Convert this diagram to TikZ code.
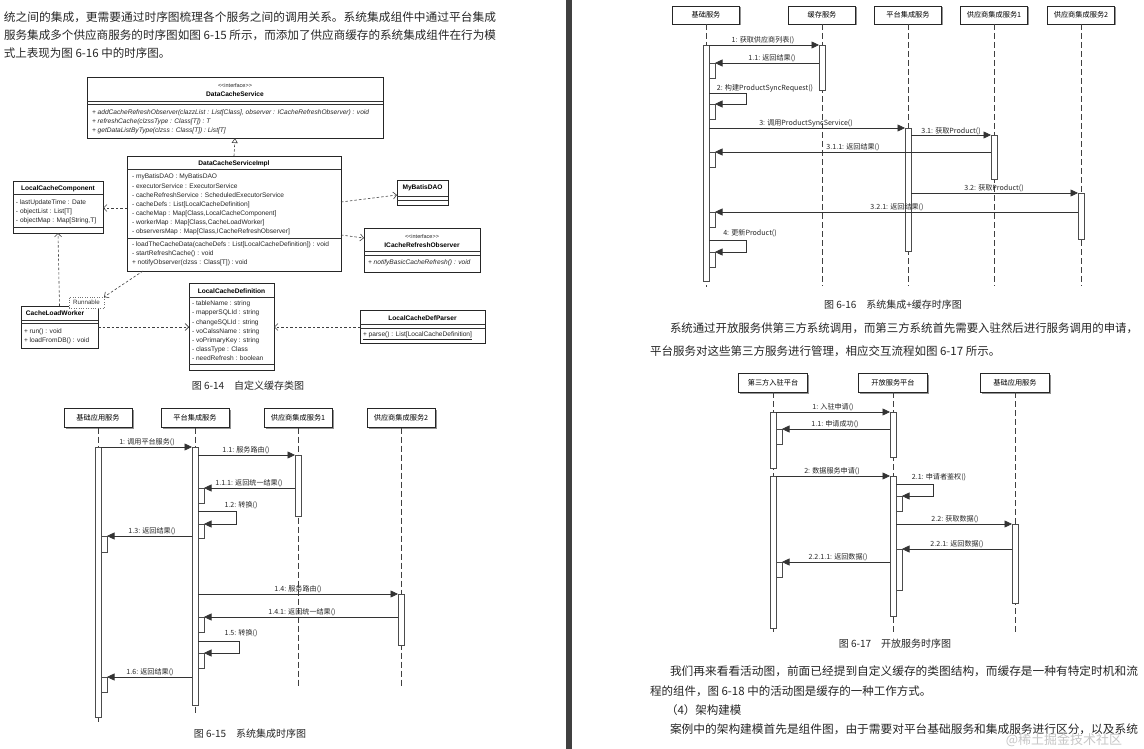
\documentclass[tikz,border=0pt]{standalone}
\usepackage{fontspec}
\usepackage{graphicx}
\setmainfont{Noto Sans CJK SC}
\newfontfamily\umlf{Liberation Sans}
\usetikzlibrary{arrows.meta,shadows,fit}
\begin{document}
\begin{tikzpicture}[x=1pt,y=-1pt,
  every node/.style={inner sep=0pt, outer sep=0pt},
  bodytxt/.style={font=\fontsize{11.5}{12}\selectfont, text=black!85, anchor=west},
  figcap/.style={font=\fontsize{10}{11}\selectfont, text=black!85},
  seqhead/.style={draw=black!85, line width=0.75pt, fill=white, minimum height=19pt, minimum width=68pt,
    font=\fontsize{7.2}{8}\selectfont, drop shadow={shadow xshift=1.5pt, shadow yshift=-1.5pt, fill=black!60, opacity=0.7}},
  actbar/.style={draw=black!70, line width=0.55pt, fill=white, inner sep=0pt},
  lifeln/.style={draw=black!75, line width=0.6pt, dash pattern=on 6pt off 3pt},
  msgline/.style={draw=black!80, line width=0.6pt, -{Triangle[length=7.5pt,width=7pt]}},
  msglab/.style={font=\fontsize{7.1}{8}\selectfont, text=black!85},
  umlcls/.style={draw=black!85, line width=0.75pt, fill=white, inner sep=0pt,
    drop shadow={shadow xshift=1.2pt, shadow yshift=-1.2pt, fill=black!50, opacity=0.6}},
  umltxt/.style={font=\umlf\fontsize{6.6}{7}\selectfont, text=black!85, anchor=west},
  umlita/.style={font=\umlf\itshape\fontsize{6.6}{7}\selectfont, text=black!85, anchor=west},
  umlhead/.style={font=\umlf\bfseries\fontsize{6.6}{7}\selectfont, text=black},
  umlster/.style={font=\umlf\fontsize{5.5}{6}\selectfont, text=black!85},
  clsline/.style={draw=black!80, line width=0.5pt},
  depline/.style={draw=black!75, line width=0.6pt, dash pattern=on 2.5pt off 2pt, -{Straight Barb[length=3.5pt,width=7pt]}},
  realline/.style={draw=black!75, line width=0.6pt, dash pattern=on 2.5pt off 2pt, -{Triangle[open,length=5pt,width=6pt]}}
]
\useasboundingbox (0,0) rectangle (1144,749);
\fill[white] (0,0) rectangle (1144,749);
\fill[black!75] (566,0) rectangle (572,749);

% ---------------- left page text
\node[bodytxt] (t1) at (4,17) {\resizebox{492pt}{\height}{统之间的集成，更需要通过时序图梳理各个服务之间的调用关系。系统集成组件中通过平台集成}};
\node[bodytxt] (t2) at (4,35) {\resizebox{492pt}{\height}{服务集成多个供应商服务的时序图如图 6-15 所示，而添加了供应商缓存的系统集成组件在行为模}};
\node[bodytxt] (t3) at (4,53) {式上表现为图 6-16 中的时序图。};

% ---------------- Fig 6-14 class diagram
\node[umlcls, fit={(87,77)(383,138)}] (dcs) {};
\node[umlster] (dcs1) at (235,86) {{<}{<}interface{>}{>}};
\node[umlhead] (dcs2) at (235,94) {DataCacheService};
\draw[clsline] (dcs.west |- 0,101) -- (dcs.east |- 0,101);
\draw[clsline] (dcs.west |- 0,104) -- (dcs.east |- 0,104);
\node[umlita] (dcs3) at (92,113) {+ addCacheRefreshObserver(clazzList : List[Class], observer : ICacheRefreshObserver) : void};
\node[umlita] (dcs4) at (92,122) {+ refreshCache(clzssType : Class[T]) : T};
\node[umlita] (dcs5) at (92,131) {+ getDataListByType(clzss : Class[T]) : List[T]};

\node[umlcls, fit={(127,156)(341,271)}] (impl) {};
\node[umlhead] (im0) at (234,164) {DataCacheServiceImpl};
\draw[clsline] (impl.west |- 0,169.5) -- (impl.east |- 0,169.5);
\node[umltxt] (im1) at (132,177) {- myBatisDAO : MyBatisDAO};
\node[umltxt] (im2) at (132,186) {- executorService : ExecutorService};
\node[umltxt] (im3) at (132,195.5) {- cacheRefreshService : ScheduledExecutorService};
\node[umltxt] (im4) at (132,204.5) {- cacheDefs : List[LocalCacheDefinition]};
\node[umltxt] (im5) at (132,213.5) {- cacheMap : Map[Class,LocalCacheComponent]};
\node[umltxt] (im6) at (132,222.5) {- workerMap : Map[Class,CacheLoadWorker]};
\node[umltxt] (im7) at (132,232) {- observersMap : Map[Class,ICacheRefreshObserver]};
\draw[clsline] (impl.west |- 0,238.5) -- (impl.east |- 0,238.5);
\node[umltxt] (im8) at (132,245) {- loadTheCacheData(cacheDefs : List[LocalCacheDefinition]) : void};
\node[umltxt] (im9) at (132,254) {- startRefreshCache() : void};
\node[umltxt] (im10) at (132,263) {+ notifyObserver(clzss : Class[T]) : void};

\node[umlcls, fit={(13,181)(103,233)}] (lcc) {};
\node[umlhead] (lc0) at (58,188.5) {LocalCacheComponent};
\draw[clsline] (lcc.west |- 0,194.5) -- (lcc.east |- 0,194.5);
\node[umltxt] (lc1) at (16,202.5) {- lastUpdateTime : Date};
\node[umltxt] (lc2) at (16,211.5) {- objectList : List[T]};
\node[umltxt] (lc3) at (16,220.5) {- objectMap : Map[String,T]};
\draw[clsline] (lcc.west |- 0,227) -- (lcc.east |- 0,227);

\node[umlcls, fit={(397,180)(448,205)}] (mb) {};
\node[umlhead] (mb0) at (422.5,188) {MyBatisDAO};
\draw[clsline] (mb.west |- 0,196) -- (mb.east |- 0,196);
\draw[clsline] (mb.west |- 0,200) -- (mb.east |- 0,200);

\node[umlcls, fit={(364,228)(480,272)}] (icro) {};
\node[umlster] (ic1) at (422,237) {{<}{<}interface{>}{>}};
\node[umlhead] (ic2) at (422,245) {ICacheRefreshObserver};
\draw[clsline] (icro.west |- 0,251) -- (icro.east |- 0,251);
\draw[clsline] (icro.west |- 0,255) -- (icro.east |- 0,255);
\node[umlita] (ic3) at (368,263) {+ notifyBasicCacheRefresh() : void};

\node[umlcls, fit={(21,306)(98,348)}] (clw) {};
\node[umlhead] (cw0) at (55,313.5) {CacheLoadWorker};
\draw[clsline] (clw.west |- 0,320) -- (clw.east |- 0,320);
\draw[clsline] (clw.west |- 0,323.5) -- (clw.east |- 0,323.5);
\node[umltxt] (cw1) at (24,332) {+ run() : void};
\node[umltxt] (cw2) at (24,340.5) {+ loadFromDB() : void};
\node[draw=black!55, dotted, fill=white, minimum width=35pt, minimum height=11pt,
  font=\umlf\fontsize{6.2}{7}\selectfont, text=black!80] (rn) at (86.5,302.5) {Runnable};

\node[umlcls, fit={(189,283)(274,370)}] (lcd) {};
\node[umlhead] (ld0) at (231.5,291) {LocalCacheDefinition};
\draw[clsline] (lcd.west |- 0,297) -- (lcd.east |- 0,297);
\node[umltxt] (ld1) at (192,304) {- tableName : string};
\node[umltxt] (ld2) at (192,313) {- mapperSQLId : string};
\node[umltxt] (ld3) at (192,322.5) {- changeSQLId : string};
\node[umltxt] (ld4) at (192,331.5) {- voCalssName : string};
\node[umltxt] (ld5) at (192,340.5) {- voPrimaryKey : string};
\node[umltxt] (ld6) at (192,349.5) {- classType : Class};
\node[umltxt] (ld7) at (192,358.5) {- needRefresh : boolean};
\draw[clsline] (lcd.west |- 0,364.5) -- (lcd.east |- 0,364.5);

\node[umlcls, fit={(360,310)(485,343)}] (lcdp) {};
\node[umlhead] (lp0) at (422.5,318) {LocalCacheDefParser};
\draw[clsline] (lcdp.west |- 0,324) -- (lcdp.east |- 0,324);
\draw[clsline] (lcdp.west |- 0,328) -- (lcdp.east |- 0,328);
\node[umltxt] (lp1) at (363,336) {\underline{+ parse() : List[LocalCacheDefinition]}};

\draw[realline] (impl.north) -- (dcs.south);
\draw[depline] (impl.west |- 0,208) -- (lcc.east |- 0,208);
\draw[depline] (impl.east |- 0,202) -- (mb.west |- 0,195);
\draw[depline] (impl.east |- 0,235) -- (icro.west |- 0,238);
\draw[depline] ([xshift=16pt]impl.south west) -- (rn.north east);
\draw[depline] (clw.north) -- (lcc.south);
\draw[depline] (clw.east |- 0,327) -- (lcd.west |- 0,327);
\draw[depline] (lcdp.west |- 0,327) -- (lcd.east |- 0,327);

\node[figcap] (c14) at (248,386) {图 6-14\quad 自定义缓存类图};

% ---------------- Fig 6-15
\node[seqhead] (A1) at (98,418) {基础应用服务};
\node[seqhead] (A2) at (195,418) {平台集成服务};
\node[seqhead] (A3) at (298,418) {供应商集成服务1};
\node[seqhead] (A4) at (401,418) {供应商集成服务2};
\coordinate (A1e) at (98,722);
\coordinate (A2e) at (195,713);
\coordinate (A3e) at (298,687);
\coordinate (A4e) at (401,687);
\draw[lifeln] (A1.south) -- (A1e);
\draw[lifeln] (A2.south) -- (A2e);
\draw[lifeln] (A3.south) -- (A3e);
\draw[lifeln] (A4.south) -- (A4e);
\node[actbar, fit={(95,447)(101,717)}] (a1) {};
\node[actbar, fit={(192,447)(198,705)}] (a2) {};
\node[actbar, fit={(295,455)(301,516)}] (a3) {};
\node[actbar, fit={(398,594)(404,645)}] (a4) {};
\node[actbar, fit={(198,488)(204,503)}] (n1) {};
\node[actbar, fit={(198,524)(204,538)}] (n2) {};
\node[actbar, fit={(101,536)(107,552)}] (n3) {};
\node[actbar, fit={(198,617)(204,632)}] (n4) {};
\node[actbar, fit={(198,653)(204,668)}] (n5) {};
\node[actbar, fit={(101,677)(107,692)}] (n6) {};
\draw[msgline] (a1.north east) -- (a2.north west);
\draw[msgline] (a2.east |- a3.north) -- (a3.north west);
\draw[msgline] (a3.west |- n1.north) -- (n1.north east);
\draw[msgline] (a2.east |- 0,511) -- ++(38,0) |- (n2.north east);
\draw[msgline] (a2.west |- n3.north) -- (n3.north east);
\draw[msgline] (a2.east |- a4.north) -- (a4.north west);
\draw[msgline] (a4.west |- n4.north) -- (n4.north east);
\draw[msgline] (a2.east |- 0,641) -- ++(41,0) |- (n5.north east);
\draw[msgline] (a2.west |- n6.north) -- (n6.north east);
\node[msglab] (l1) at (147,442) {1: 调用平台服务()};
\node[msglab] (l2) at (246,450) {1.1: 服务路由()};
\node[msglab] (l3) at (249,483) {1.1.1: 返回统一结果()};
\node[msglab] (l4) at (241,505) {1.2: 转换()};
\node[msglab] (l5) at (152,531) {1.3: 返回结果()};
\node[msglab] (l6) at (298,589) {1.4: 服务路由()};
\node[msglab] (l7) at (302,612) {1.4.1: 返回统一结果()};
\node[msglab] (l8) at (241,633) {1.5: 转换()};
\node[msglab] (l9) at (150,672) {1.6: 返回结果()};
\node[figcap] (c15) at (250,734) {图 6-15\quad 系统集成时序图};

% ---------------- Fig 6-16
\node[seqhead, minimum height=18pt, minimum width=67pt] (B1) at (706,15) {基础服务};
\node[seqhead, minimum height=18pt, minimum width=67pt] (B2) at (822,15) {缓存服务};
\node[seqhead, minimum height=18pt, minimum width=67pt] (B3) at (908,15) {平台集成服务};
\node[seqhead, minimum height=18pt, minimum width=67pt] (B4) at (994,15) {供应商集成服务1};
\node[seqhead, minimum height=18pt, minimum width=67pt] (B5) at (1081,15) {供应商集成服务2};
\coordinate (B1e) at (706,287);
\coordinate (B2e) at (822,286);
\coordinate (B3e) at (908,286);
\coordinate (B4e) at (994,286);
\coordinate (B5e) at (1081,286);
\draw[lifeln] (B1.south) -- (B1e);
\draw[lifeln] (B2.south) -- (B2e);
\draw[lifeln] (B3.south) -- (B3e);
\draw[lifeln] (B4.south) -- (B4e);
\draw[lifeln] (B5.south) -- (B5e);
\node[actbar, fit={(703,45)(709,281)}] (c1) {};
\node[actbar, fit={(819,45)(825,90)}] (c2) {};
\node[actbar, fit={(905,128)(911,251)}] (c3) {};
\node[actbar, fit={(991,135)(997,179)}] (c4) {};
\node[actbar, fit={(1078,193)(1084,239)}] (c5) {};
\node[actbar, fit={(709,63)(715,78)}] (k1) {};
\node[actbar, fit={(709,104)(715,119)}] (k2) {};
\node[actbar, fit={(709,152)(715,167)}] (k3) {};
\node[actbar, fit={(709,212)(715,227)}] (k4) {};
\node[actbar, fit={(709,252)(715,267)}] (k5) {};
\draw[msgline] (c1.north east) -- (c2.north west);
\draw[msgline] (c2.west |- k1.north) -- (k1.north east);
\draw[msgline] (c1.east |- 0,93) -- ++(37,0) |- (k2.north east);
\draw[msgline] (c1.east |- c3.north) -- (c3.north west);
\draw[msgline] (c3.east |- c4.north) -- (c4.north west);
\draw[msgline] (c4.west |- k3.north) -- (k3.north east);
\draw[msgline] (c3.east |- c5.north) -- (c5.north west);
\draw[msgline] (c5.west |- k4.north) -- (k4.north east);
\draw[msgline] (c1.east |- 0,240) -- ++(37,0) |- (k5.north east);
\node[msglab] (r1) at (763,40) {1: 获取供应商列表()};
\node[msglab] (r2) at (772,58) {1.1: 返回结果()};
\node[msglab] (r3) at (765,88) {2: 构建ProductSyncRequest()};
\node[msglab] (r4) at (806,123) {3: 调用ProductSyncService()};
\node[msglab] (r5) at (951,131) {3.1: 获取Product()};
\node[msglab] (r6) at (853,147) {3.1.1: 返回结果()};
\node[msglab] (r7) at (994,188) {3.2: 获取Product()};
\node[msglab] (r8) at (897,207) {3.2.1: 返回结果()};
\node[msglab] (r9) at (750,233) {4: 更新Product()};
\node[figcap] (c16) at (893,305) {图 6-16\quad 系统集成+缓存时序图};

% ---------------- right text
\node[bodytxt] (t4) at (670,328) {\resizebox{468pt}{\height}{系统通过开放服务供第三方系统调用，而第三方系统首先需要入驻然后进行服务调用的申请，}};
\node[bodytxt] (t5) at (650,351) {平台服务对这些第三方服务进行管理，相应交互流程如图 6-17 所示。};

% ---------------- Fig 6-17
\node[seqhead, minimum width=69pt] (P1) at (773,382.5) {第三方入驻平台};
\node[seqhead, minimum width=69pt] (P2) at (893,382.5) {开放服务平台};
\node[seqhead, minimum width=69pt] (P3) at (1015,382.5) {基础应用服务};
\coordinate (P1e) at (773,632);
\coordinate (P2e) at (893,632);
\coordinate (P3e) at (1015,632);
\draw[lifeln] (P1.south) -- (P1e);
\draw[lifeln] (P2.south) -- (P2e);
\draw[lifeln] (P3.south) -- (P3e);
\node[actbar, fit={(770,412)(776,468)}] (d1a) {};
\node[actbar, fit={(890,412)(896,457)}] (d2a) {};
\node[actbar, fit={(770,476)(776,628)}] (d1b) {};
\node[actbar, fit={(890,476)(896,616)}] (d2b) {};
\node[actbar, fit={(1012,524)(1018,603)}] (d3) {};
\node[actbar, fit={(776,429)(782,444)}] (q1) {};
\node[actbar, fit={(896,496)(902,511)}] (q2) {};
\node[actbar, fit={(896,549)(902,590)}] (q3) {};
\node[actbar, fit={(776,562)(782,577)}] (q4) {};
\draw[msgline] (d1a.north east) -- (d2a.north west);
\draw[msgline] (d2a.west |- q1.north) -- (q1.north east);
\draw[msgline] (d1b.north east) -- (d2b.north west);
\draw[msgline] (d2b.east |- 0,484) -- ++(37,0) |- (q2.north east);
\draw[msgline] (d2b.east |- d3.north) -- (d3.north west);
\draw[msgline] (d3.west |- q3.north) -- (q3.north east);
\draw[msgline] (d2b.west |- q4.north) -- (q4.north east);
\node[msglab] (s1) at (833,407) {1: 入驻申请()};
\node[msglab] (s2) at (835,424) {1.1: 申请成功()};
\node[msglab] (s3) at (832,471) {2: 数据服务申请()};
\node[msglab] (s4) at (939,477) {2.1: 申请者鉴权()};
\node[msglab] (s5) at (955,519) {2.2: 获取数据()};
\node[msglab] (s6) at (957,544) {2.2.1: 返回数据()};
\node[msglab] (s7) at (838,557) {2.2.1.1: 返回数据()};
\node[figcap] (c17) at (895,644) {图 6-17\quad 开放服务时序图};

% ---------------- bottom right text
\node[bodytxt] (t6) at (670,671) {\resizebox{468pt}{\height}{我们再来看看活动图，前面已经提到自定义缓存的类图结构，而缓存是一种有特定时机和流}};
\node[bodytxt] (t7) at (650,691) {程的组件，图 6-18 中的活动图是缓存的一种工作方式。};
\node[bodytxt] (t8) at (666,710) {（4）架构建模};
\node[bodytxt] (t9) at (670,729) {\resizebox{468pt}{\height}{案例中的架构建模首先是组件图，由于需要对平台基础服务和集成服务进行区分，以及系统}};
\node[font=\fontsize{13}{14}\selectfont, text=black!22] (wm) at (1064,740) {@稀土掘金技术社区};
\end{tikzpicture}
\end{document}
